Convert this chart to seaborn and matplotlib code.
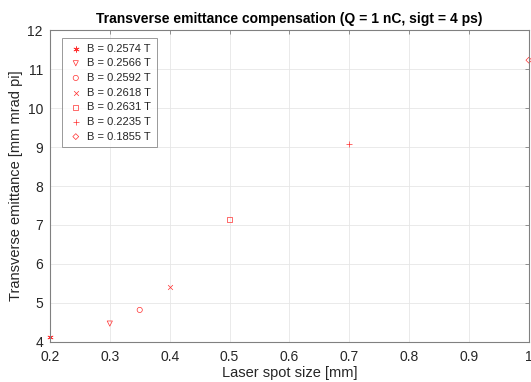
import matplotlib
matplotlib.use("Agg")
import matplotlib.pyplot as plt
import seaborn as sns
import numpy as np

# laser spot size [mm] and transverse emittance [mm mrad pi]
spot_size = [0.2, 0.3, 0.35, 0.4, 0.5, 0.7, 1.0]
emittance = [4.13, 4.47, 4.82, 5.40, 7.14, 9.09, 11.23]
field_labels = ['B = 0.2574 T', 'B = 0.2566 T', 'B = 0.2592 T', 'B = 0.2618 T',
                'B = 0.2631 T', 'B = 0.2235 T', 'B = 0.1855 T']
markers = [(6, 2, 0), 'v', 'o', 'x', 's', '+', 'D']
sizes = [16, 14, 14, 12, 11, 18, 9]

xticks = [0.2, 0.3, 0.4, 0.5, 0.6, 0.7, 0.8, 0.9, 1.0]
xticklabels = ['0.2', '0.3', '0.4', '0.5', '0.6', '0.7', '0.8', '0.9', '1']
yticks = [4, 5, 6, 7, 8, 9, 10, 11, 12]

sns.set_style("whitegrid")
plt.rcParams['font.family'] = ['Liberation Sans', 'DejaVu Sans']

fig = plt.figure(figsize=(5.31, 3.82), dpi=100)
ax = fig.add_axes([0.094, 0.105, 0.902, 0.816])

for xv, yv, lab, m, s in zip(spot_size, emittance, field_labels, markers, sizes):
    if m in ['x', '+', (6, 2, 0)]:
        sns.scatterplot(x=[xv], y=[yv], marker=m, s=s, color='#ff3030',
                        linewidth=0.5, label=lab, ax=ax, clip_on=False)
    else:
        sns.scatterplot(x=[xv], y=[yv], marker=m, s=s, facecolor='none',
                        edgecolor='#ff3030', linewidth=0.5, label=lab, ax=ax,
                        clip_on=False)

ax.set_xlim(0.2, 1.0)
ax.set_ylim(4, 12)
ax.set_xticks(xticks)
ax.set_xticklabels(xticklabels)
ax.set_yticks(yticks)
ax.grid(True, color='#e6e6e6', linewidth=0.6)
for sp in ax.spines.values():
    sp.set_color('#808080')
    sp.set_linewidth(0.8)
ax.tick_params(direction='in', length=3, width=0.6, color='#808080',
               top=True, right=True, labelsize=10, labelcolor='#262626')
ax.tick_params(axis='x', pad=6)
ax.tick_params(axis='y', pad=5)

ax.set_xlabel('Laser spot size [mm]', fontsize=10.5, color='#262626', labelpad=1)
ax.set_ylabel('Transverse emittance [mm mrad pi]', fontsize=10.5, color='#262626', labelpad=3)
ax.set_title('Transverse emittance compensation (Q = 1 nC, sigt = 4 ps)',
             fontsize=10, fontweight='bold', color='black', pad=5)

leg = ax.legend(loc='upper left', bbox_to_anchor=(0.025, 0.975), fontsize=8,
                frameon=True, fancybox=False, edgecolor='#808080',
                handletextpad=0.3, borderpad=0.5, labelspacing=0.42,
                handlelength=1.5, borderaxespad=0)
leg.get_frame().set_linewidth(0.7)

plt.savefig('out.png', dpi=100)
